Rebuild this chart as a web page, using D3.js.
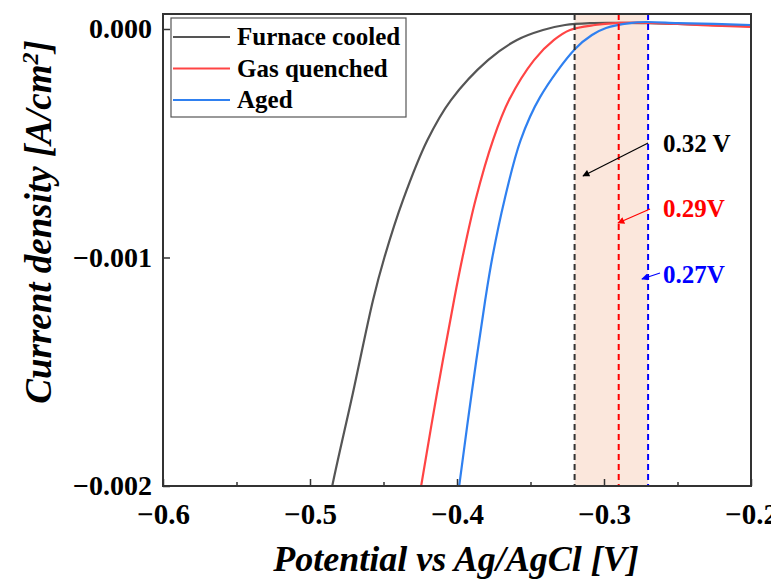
<!DOCTYPE html>
<html>
  <head>
    <meta charset="UTF-8" />
    <style>
      body {
        margin: 0;
        background: #fff;
      }
      text {
        font-family: "Liberation Serif", "DejaVu Serif", serif;
        font-weight: bold;
      }
    </style>
  </head>
  <body>
    <svg id="chart" width="771" height="580"></svg>

    <script src="https://d3js.org/d3.v7.min.js"></script>
    <script>
      // series names
      const seriesNames = ["Furnace cooled", "Gas quenched", "Aged"];

      // potential (V) and current density (A/cm2)
      const potFurnace = [-0.4918, -0.4850, -0.4708, -0.4571, -0.4493, -0.4367, -0.4201, -0.4041, -0.3789, -0.3592, -0.3415, -0.3265, -0.3095, -0.29, -0.27, -0.25, -0.225, -0.20];
      const curFurnace = [-0.002236, -0.002004, -0.001593, -0.001186, -0.000998, -0.000748, -0.000486, -0.000311, -0.000136, -0.000048, -0.0000044, 0.0000175, 0.000026, 0.000027, 0.000026, 0.000022, 0.000017, 0.000012];

      const potGas = [-0.4306, -0.4245, -0.4136, -0.4020, -0.3962, -0.3874, -0.3755, -0.3646, -0.3476, -0.3340, -0.3231, -0.3061, -0.2918, -0.27, -0.25, -0.225, -0.20];
      const curGas = [-0.002236, -0.002004, -0.001593, -0.001186, -0.000998, -0.000748, -0.000486, -0.000311, -0.000136, -0.000048, -0.0000044, 0.0000175, 0.000026, 0.000027, 0.000022, 0.000015, 0.000009];

      const potAged = [-0.4034, -0.3986, -0.3900, -0.3808, -0.3759, -0.3677, -0.3567, -0.3435, -0.3197, -0.3082, -0.2986, -0.2823, -0.2714, -0.25, -0.225, -0.20];
      const curAged = [-0.002236, -0.002004, -0.001593, -0.001186, -0.000998, -0.000748, -0.000486, -0.000298, -0.0000875, -0.0000263, 0.0000044, 0.000026, 0.0000306, 0.000026, 0.000022, 0.0000175];

      // onset potentials (dashed lines) and their labels
      const onsetValues = [-0.32, -0.29, -0.27];
      const onsetLabels = ["0.32 V", "0.29V", "0.27V"];
      // label anchor [potential, current]
      const labelPos = [[-0.2599, -0.000538], [-0.2599, -0.000823], [-0.2599, -0.001111]];
      // arrow tail and head [potential, current]
      const arrowFrom = [[-0.270, -0.000499], [-0.2687, -0.000788], [-0.2619, -0.001068]];
      const arrowTo = [[-0.3143, -0.000643], [-0.2905, -0.000849], [-0.2742, -0.001094]];

      // axis ticks
      const xTicks = [-0.6, -0.5, -0.4, -0.3, -0.2];
      const xMinorTicks = [-0.55, -0.45, -0.35, -0.25];
      const yTicks = [0, -0.001, -0.002];
      const yTickLabels = ["0.000", "\u22120.001", "\u22120.002"];

      const lineColors = ["#555555", "#ff4444", "#2f80f0"];
      const dashColors = ["#333333", "#ff0000", "#0000ff"];

      const margin = { top: 14, right: 20, bottom: 94, left: 163 };
      const width = 771 - margin.left - margin.right;
      const height = 580 - margin.top - margin.bottom;

      const svg = d3.select("#chart");

      const chart = svg
        .append("g")
        .attr("transform", `translate(${margin.left}, ${margin.top})`);

      const xScale = d3.scaleLinear().domain([-0.6, -0.2]).range([0, width]);
      const yScale = d3
        .scaleLinear()
        .domain([-0.002, 0.0000656])
        .range([height, 0]);

      svg
        .append("defs")
        .append("clipPath")
        .attr("id", "clip")
        .append("rect")
        .attr("width", width)
        .attr("height", height);

      const markerColors = ["#000000", "#ff0000", "#0000ff"];
      markerColors.forEach((c, i) => {
        svg
          .select("defs")
          .append("marker")
          .attr("id", "arr" + i)
          .attr("viewBox", "0 0 10 10")
          .attr("refX", 9)
          .attr("refY", 5)
          .attr("markerWidth", 9)
          .attr("markerHeight", 7)
          .attr("markerUnits", "userSpaceOnUse")
          .attr("orient", "auto")
          .append("path")
          .attr("d", "M0,0 L10,5 L0,10 Z")
          .attr("fill", c);
      });

      const plot = chart.append("g").attr("clip-path", "url(#clip)");

      // shaded band between onset potentials
      plot
        .append("rect")
        .attr("x", xScale(d3.min(onsetValues)))
        .attr("y", 0)
        .attr("width", xScale(d3.max(onsetValues)) - xScale(d3.min(onsetValues)))
        .attr("height", height)
        .attr("fill", "#fbe7dc");

      // curves
      const series = [
        { x: potFurnace, y: curFurnace },
        { x: potGas, y: curGas },
        { x: potAged, y: curAged },
      ];

      const line = d3
        .line()
        .x((d) => xScale(d[0]))
        .y((d) => yScale(d[1]))
        .curve(d3.curveCatmullRom.alpha(0.5));

      series.forEach((s, i) => {
        plot
          .append("path")
          .datum(d3.zip(s.x, s.y))
          .attr("fill", "none")
          .attr("stroke", lineColors[i])
          .attr("stroke-width", 2.2)
          .attr("d", line);
      });

      // dashed onset lines
      onsetValues.forEach((v, i) => {
        plot
          .append("line")
          .attr("x1", xScale(v))
          .attr("x2", xScale(v))
          .attr("y1", 0)
          .attr("y2", height)
          .attr("stroke", dashColors[i])
          .attr("stroke-width", 2)
          .attr("stroke-dasharray", "6,4");
      });

      // annotation arrows + labels
      onsetLabels.forEach((t, i) => {
        chart
          .append("line")
          .attr("x1", xScale(arrowFrom[i][0]))
          .attr("y1", yScale(arrowFrom[i][1]))
          .attr("x2", xScale(arrowTo[i][0]))
          .attr("y2", yScale(arrowTo[i][1]))
          .attr("stroke", markerColors[i])
          .attr("stroke-width", 1.2)
          .attr("marker-end", `url(#arr${i})`);

        chart
          .append("text")
          .attr("x", xScale(labelPos[i][0]))
          .attr("y", yScale(labelPos[i][1]))
          .attr("fill", markerColors[i])
          .style("font-size", "25px")
          .text(t);
      });

      // axes (ticks pointing inward)
      const xAxis = chart
        .append("g")
        .attr("transform", `translate(0, ${height})`)
        .call(d3.axisBottom(xScale).tickValues(xTicks).tickSizeInner(-7).tickSizeOuter(0).tickPadding(17).tickFormat((d) => d3.format(".1f")(d).replace("-", "\u2212")));
      xAxis.selectAll("text").style("font-size", "29px").attr("fill", "#000");

      chart
        .append("g")
        .attr("transform", `translate(0, ${height})`)
        .call(d3.axisBottom(xScale).tickValues(xMinorTicks).tickSizeInner(-4).tickSizeOuter(0).tickFormat(""));

      const yAxis = chart
        .append("g")
        .call(d3.axisLeft(yScale).tickValues(yTicks).tickSizeInner(-7).tickSizeOuter(0).tickPadding(11).tickFormat((d, i) => yTickLabels[i]));
      yAxis.selectAll("text").style("font-size", "28px").attr("fill", "#000");

      chart.selectAll(".domain").remove();
      chart.selectAll(".tick line").attr("stroke", "#333").attr("stroke-width", 1.5);

      // frame
      chart
        .append("rect")
        .attr("width", width)
        .attr("height", height)
        .attr("fill", "none")
        .attr("stroke", "#333")
        .attr("stroke-width", 2);

      // legend
      const legend = chart.append("g").attr("transform", "translate(8, 4)");
      legend
        .append("rect")
        .attr("width", 235)
        .attr("height", 99)
        .attr("fill", "#fff")
        .attr("stroke", "#555")
        .attr("stroke-width", 1.2);

      seriesNames.forEach((n, i) => {
        const row = legend.append("g").attr("transform", `translate(0, ${19 + i * 31.5})`);
        row
          .append("line")
          .attr("x1", 2)
          .attr("x2", 59)
          .attr("stroke", lineColors[i])
          .attr("stroke-width", 2);
        row
          .append("text")
          .attr("x", 66)
          .attr("y", 8)
          .style("font-size", "25px")
          .text(n);
      });

      // axis titles
      svg
        .append("text")
        .attr("x", margin.left + width / 2 - 1)
        .attr("y", 571)
        .attr("text-anchor", "middle")
        .style("font-size", "36px")
        .style("font-style", "italic")
        .text("Potential vs Ag/AgCl [V]");

      const yTitle = svg
        .append("text")
        .attr("transform", "translate(51, 222) rotate(-90)")
        .attr("text-anchor", "middle")
        .style("font-size", "37px")
        .style("font-style", "italic");
      yTitle.append("tspan").text("Current density [A/cm");
      yTitle.append("tspan").attr("dy", -13).style("font-size", "24px").text("2");
      yTitle.append("tspan").attr("dy", 13).text("]");
    </script>
  </body>
</html>
